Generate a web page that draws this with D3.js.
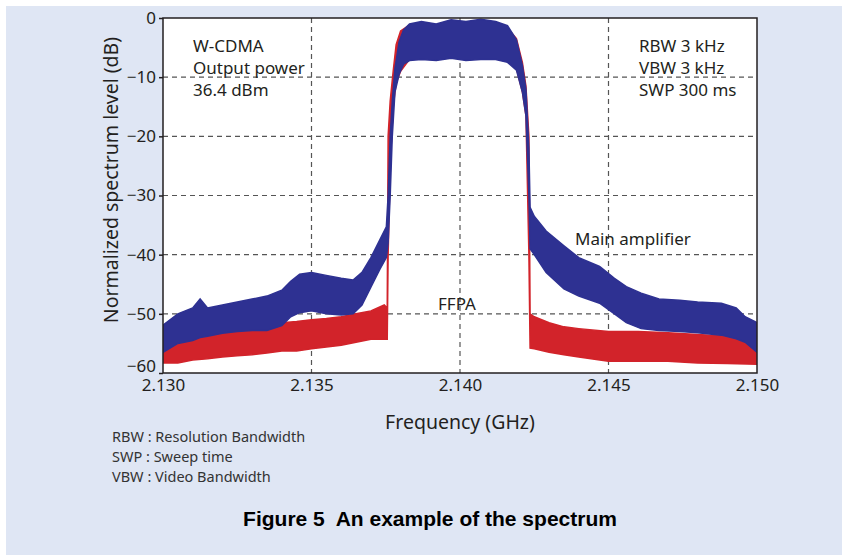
<!DOCTYPE html>
<html>
<head>
<meta charset="utf-8">
<script src="https://cdn.jsdelivr.net/npm/d3@7"></script>
<style>
  body { margin: 0; background: #fff; }
  svg { display: block; }
  .txt { font-family: "Noto Sans", sans-serif; fill: #231f20; }
</style>
</head>
<body>
<div id="chart"></div>
<script>
// frequency axis (GHz) and level axis (dB)
const xTicks = [2.130, 2.135, 2.140, 2.145, 2.150];
const yTicks = [0, -10, -20, -30, -40, -50, -60];

// Main amplifier trace, read as upper / lower envelope of the noisy band
const mainFreq = [2.1300, 2.1305, 2.1310, 2.13125, 2.1315, 2.1320, 2.1325, 2.1330, 2.1335, 2.1340,
  2.1343, 2.1346, 2.1350, 2.1355, 2.1360, 2.1364, 2.1367, 2.1370, 2.1373, 2.13752,
  2.13758, 2.13765, 2.13772, 2.13781, 2.13795, 2.1381, 2.1383, 2.1387, 2.1392, 2.1397,
  2.1402, 2.1407, 2.1412, 2.1416, 2.1419, 2.1421, 2.14222, 2.14232, 2.14236, 2.1425,
  2.1429, 2.1435, 2.1440, 2.1447, 2.1452, 2.1456, 2.1461, 2.1467, 2.1474, 2.1480,
  2.1488, 2.1493, 2.1496, 2.1500];
const mainUpper = [-51.9, -50, -49, -47.5, -49, -48.5, -48, -47.5, -47, -46,
  -44.5, -43.3, -43, -43.5, -44, -44.3, -43, -40.5, -37.5, -35.3,
  -30, -20, -14, -8.5, -4, -2, -1, -0.6, -1, -0.3,
  -0.6, -0.2, -0.6, -1.3, -3.7, -8, -12, -22, -32, -33.5,
  -36, -38.5, -40.5, -42, -44, -45.4, -46.5, -47.5, -47.7, -48,
  -48.2, -49, -50.5, -51.5];
const mainLower = [-56.5, -55, -54.5, -54, -53.8, -53.3, -53, -52.8, -52.8, -52,
  -50.5, -49.8, -49.5, -50, -50.2, -50, -48.5, -45.5, -42.5, -40.5,
  -38, -30, -20, -12.5, -9.5, -7.8, -7.2, -7, -7.2, -6.8,
  -7.2, -7, -7, -7.5, -8.8, -12.5, -16.5, -30, -39, -40,
  -43, -45.8, -47, -48.2, -50, -51.5, -52.5, -52.8, -53, -53.2,
  -53.6, -54.2, -54.8, -56.5];

// FFPA trace
const ffpaFreq = [2.1300, 2.1305, 2.1310, 2.1315, 2.1320, 2.1325, 2.1330, 2.1335, 2.1340, 2.1345,
  2.1350, 2.1355, 2.1360, 2.1365, 2.1370, 2.13745, 2.13755, 2.13758, 2.13765, 2.13775,
  2.13785, 2.1380, 2.1383, 2.1390, 2.1397, 2.1404, 2.1410, 2.1416, 2.1419, 2.1421,
  2.14222, 2.14232, 2.14236, 2.1425, 2.1430, 2.1435, 2.1440, 2.1450, 2.1460, 2.1470,
  2.1480, 2.1490, 2.1500];
const ffpaUpper = [-53.2, -53, -52.8, -52.5, -52.5, -52.3, -52.2, -51.8, -51.5, -51.3,
  -51, -50.8, -50.5, -50, -49.5, -48.5, -49, -20, -14, -9,
  -4.5, -2.2, -1.2, -1.2, -1, -1, -1.2, -1.7, -3.5, -7.5,
  -11.5, -20, -50, -50.5, -51.5, -52.2, -52.5, -53, -53, -53.2,
  -53.5, -53.8, -54];
const ffpaLower = [-58.3, -58.3, -57.8, -57.6, -57.3, -57.1, -56.9, -56.6, -56.3, -56.3,
  -55.9, -55.6, -55.3, -54.8, -54.3, -54.3, -54.3, -40, -25, -15,
  -11, -9, -7, -6.8, -6.6, -6.8, -6.7, -7.2, -8.5, -12.5,
  -16.5, -40, -55.8, -55.9, -56.5, -56.9, -57.3, -58, -58, -58,
  -58.3, -58.4, -58.5];

const notes = ['RBW : Resolution Bandwidth', 'SWP : Sweep time', 'VBW : Video Bandwidth'];
const infoLeft = ['W-CDMA', 'Output power', '36.4 dBm'];
const infoRight = ['RBW 3 kHz', 'VBW 3 kHz', 'SWP 300 ms'];

const width = 842, height = 555;
const plot = { left: 163, right: 757, top: 18, bottom: 373 };

const svg = d3.select('#chart').append('svg')
  .attr('width', width)
  .attr('height', height);

// light blue panel behind everything
svg.append('rect')
  .attr('x', 6).attr('y', 6)
  .attr('width', width - 6).attr('height', height - 6)
  .attr('fill', '#dfe6f4');

const x = d3.scaleLinear().domain([2.130, 2.150]).range([plot.left, plot.right]);
const y = d3.scaleLinear().domain([-60, 0]).range([plot.bottom, plot.top]);

svg.append('rect')
  .attr('x', plot.left).attr('y', plot.top)
  .attr('width', plot.right - plot.left).attr('height', plot.bottom - plot.top)
  .attr('fill', '#fff');

// dashed grid
const grid = svg.append('g').attr('stroke', '#555').attr('stroke-width', 1.2).attr('stroke-dasharray', '5,4');
grid.selectAll('line.v').data(xTicks.slice(1, -1)).join('line')
  .attr('x1', d => x(d)).attr('x2', d => x(d))
  .attr('y1', plot.top).attr('y2', plot.bottom);
grid.selectAll('line.h').data(yTicks.slice(1, -1)).join('line')
  .attr('y1', d => y(d)).attr('y2', d => y(d))
  .attr('x1', plot.left).attr('x2', plot.right);

// traces drawn as filled noise bands
function band(freq, upper, lower) {
  return d3.area()
    .x((d, i) => x(freq[i]))
    .y0((d, i) => y(lower[i]))
    .y1((d, i) => y(upper[i]))(freq);
}
svg.append('clipPath').attr('id', 'clip').append('rect')
  .attr('x', plot.left).attr('y', plot.top)
  .attr('width', plot.right - plot.left).attr('height', plot.bottom - plot.top);

svg.append('path')
  .attr('clip-path', 'url(#clip)')
  .attr('d', band(ffpaFreq, ffpaUpper, ffpaLower))
  .attr('fill', '#d2232a').attr('stroke', '#d2232a').attr('stroke-width', 1.5);
svg.append('path')
  .attr('clip-path', 'url(#clip)')
  .attr('d', band(mainFreq, mainUpper, mainLower))
  .attr('fill', '#2e3192').attr('stroke', '#2e3192').attr('stroke-width', 1.5);

// frame
svg.append('rect')
  .attr('x', plot.left).attr('y', plot.top)
  .attr('width', plot.right - plot.left).attr('height', plot.bottom - plot.top)
  .attr('fill', 'none').attr('stroke', '#231f20').attr('stroke-width', 1.5);

// axes
const fmtY = d => d === 0 ? '0' : '\u2212' + Math.abs(d);
const yAxis = svg.append('g')
  .attr('transform', `translate(${plot.left},0)`)
  .call(d3.axisLeft(y).tickValues(yTicks).tickFormat(fmtY).tickSize(4).tickPadding(3));
const xAxis = svg.append('g')
  .attr('transform', `translate(0,${plot.bottom})`)
  .call(d3.axisBottom(x).tickValues(xTicks).tickFormat(d3.format('.3f')).tickSize(0).tickPadding(4));
[yAxis, xAxis].forEach(a => {
  a.select('.domain').remove();
  a.selectAll('line').attr('stroke', '#231f20').attr('stroke-width', 1.5);
  a.selectAll('text').attr('class', 'txt').style('font-size', '17px');
});
xAxis.selectAll('text').attr('dy', '0.8em');
// the bottom label sits a little above its tick, clear of 2.130
yAxis.selectAll('.tick').filter(d => d === -60).select('text').attr('y', -7);

// axis titles
svg.append('text').attr('class', 'txt')
  .attr('transform', `translate(118,180) rotate(-90)`)
  .attr('text-anchor', 'middle')
  .style('font-size', '19.5px')
  .text('Normalized spectrum level (dB)');
svg.append('text').attr('class', 'txt')
  .attr('x', 460).attr('y', 429)
  .attr('text-anchor', 'middle')
  .style('font-size', '19.5px')
  .text('Frequency (GHz)');

// annotations inside the plot
svg.selectAll('text.infoL').data(infoLeft).join('text')
  .attr('class', 'txt infoL')
  .attr('x', 193).attr('y', (d, i) => 52 + i * 22)
  .style('font-size', '17px')
  .text(d => d);
svg.selectAll('text.infoR').data(infoRight).join('text')
  .attr('class', 'txt infoR')
  .attr('x', 639).attr('y', (d, i) => 52 + i * 22)
  .style('font-size', '17px')
  .text(d => d);
svg.append('text').attr('class', 'txt')
  .attr('x', 575).attr('y', 245)
  .style('font-size', '17px')
  .text('Main amplifier');
svg.append('text').attr('class', 'txt')
  .attr('x', 438).attr('y', 310)
  .style('font-size', '17px')
  .text('FFPA');

// footnotes
svg.selectAll('text.note').data(notes).join('text')
  .attr('class', 'txt note')
  .attr('x', 112).attr('y', (d, i) => 442 + i * 20)
  .style('font-size', '14.5px')
  .style('fill', '#333')
  .text(d => d);

// caption
svg.append('text')
  .attr('x', 430).attr('y', 526)
  .attr('text-anchor', 'middle')
  .style('font-family', '"Liberation Sans", Arial, sans-serif')
  .style('font-weight', 'bold')
  .style('font-size', '21px')
  .attr('xml:space', 'preserve')
  .text('Figure 5  An example of the spectrum');
</script>
</body>
</html>
